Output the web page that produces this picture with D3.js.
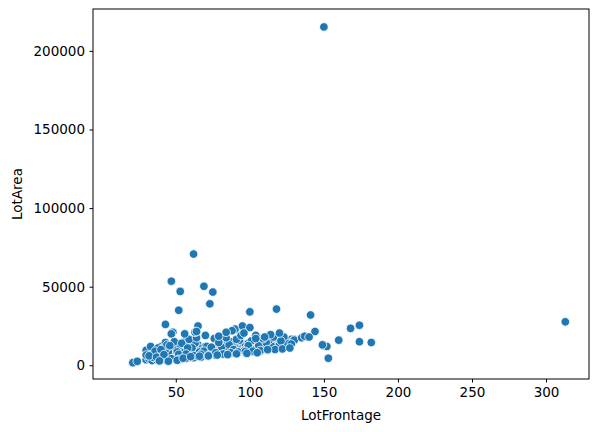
<!DOCTYPE html>
<html>
<head>
  <script src="https://cdnjs.cloudflare.com/ajax/libs/d3/7.8.5/d3.min.js"></script>
  <style>body{margin:0;background:#fff;font-family:"DejaVu Sans",sans-serif;}</style>
</head>
<body>
<div id="chart"></div>
<script>
// LotFrontage values
var frontage = [
  150,313,62,47,69,75,53,52,73,100,118,141,174,168,174,182,160,153,150,152,144,138,130,43,48,65,90,95,100,
  21,21,24,30,30,32,34,35,35,36,37,38,40,40,41,42,43,44,45,46,47,48,49,50,50,51,52,53,54,55,56,57,58,59,60,60,
  60,61,62,63,64,65,65,66,67,68,69,70,70,71,72,73,74,75,75,76,77,78,79,80,80,81,82,83,84,85,85,86,87,88,89,90,
  90,91,92,93,94,95,96,97,98,99,100,101,102,103,104,105,106,107,108,110,112,114,115,116,118,120,121,122,124,125,126,128,129,130,
  30,35,40,45,50,55,60,65,70,75,80,85,90,95,100,105,110,115,120,125,
  33,38,43,48,53,58,63,68,73,78,83,88,93,98,103,108,113,118,123,128,
  36,41,46,51,56,61,66,71,76,81,86,91,96,101,106,111,116,121,
  44,49,54,59,64,69,74,79,84,89,94,99,104,109,114,
  57,62,67,72,77,82,87,92,97,102,107,112,117,122,127,
  40,46,52,58,63,70,64,56,88,96,104,110,84,79,120,135,137,140,149,
  32,37,42,47,52,57,62,67,72,77,82,87,92,97,102,107,112,
  39,45,51,55,60,66,72,78,85,91,98,105
];
// LotArea values
var lotArea = [
  215245,27650,70761,53504,50271,46589,47000,35000,39104,34000,35760,32000,25500,23500,15000,14500,16000,4500,12500,12000,21500,18000,16500,26000,21000,25000,23000,25000,24000,
  1500,1700,2500,3500,9500,4000,3000,5000,7500,6000,3500,8000,4500,12000,6500,5500,14500,3000,9000,7000,20000,6000,8500,6500,11000,5500,7500,9000,4000,10500,8000,6500,12500,7000,7200,9500,
  12000,8000,9500,7500,10000,8500,13000,7800,9200,11000,8400,8800,12000,9600,10000,7500,9000,11500,8500,10500,9800,12500,9000,10200,14000,9500,11000,12000,10500,10000,13500,11000,9500,12000,11200,10500,
  14000,11500,13000,10000,12500,11800,13000,12000,10500,14000,13000,12000,11500,13500,12500,14000,13000,12000,14500,13500,14000,15000,13800,14500,16000,15000,14200,15500,16000,15000,14800,16500,15500,16000,
  6500,5000,7500,8500,4500,9500,5000,6000,6500,7500,8000,9000,8500,9000,9500,10000,11000,12000,13000,14000,
  12000,11000,10000,4000,13000,6500,14000,8000,9000,16000,10000,15000,16000,11000,17000,11000,16000,17500,18000,13500,
  9000,5500,12500,8500,15000,11000,8500,12000,17000,11500,13000,16500,9000,15500,12500,14500,18000,15500,
  13000,15000,14000,16500,17500,9000,11500,14500,17500,10000,19000,12500,19000,17000,19500,
  4500,4800,5200,6000,6400,7000,7500,7800,8200,8600,9000,9600,10000,10400,11000,
  10000,12500,7000,11000,21000,19000,21500,20000,22000,20500,17000,18000,21000,18500,20500,17500,18500,18000,13000,
  6000,5200,6800,4200,3800,7200,6200,7000,6500,8000,7200,8000,8500,8800,9000,9400,10000,
  2800,2600,3200,4500,5500,5800,6000,6500,6800,7300,7600,8000
];
var xTicks = [50, 100, 150, 200, 250, 300];
var yTicks = [0, 50000, 100000, 150000, 200000];

var width = 598, height = 432;
var margin = {left: 93, right: 9, top: 9, bottom: 53};

var svg = d3.select('#chart').append('svg')
  .attr('width', width).attr('height', height);

var x = d3.scaleLinear().domain([-5.9, 329]).range([margin.left, width - margin.right]);
var y = d3.scaleLinear().domain([-8720, 226650]).range([height - margin.bottom, margin.top]);

var points = frontage.map(function(f, i){ return [f, lotArea[i]]; });

svg.append('g').selectAll('circle').data(points).enter().append('circle')
  .attr('cx', function(d){ return x(d[0]); })
  .attr('cy', function(d){ return y(d[1]); })
  .attr('r', 4.3)
  .style('fill', '#1f77b4')
  .style('stroke', '#fff')
  .style('stroke-width', 0.8);

var xAxis = svg.append('g')
  .attr('transform', 'translate(0,' + (height - margin.bottom) + ')')
  .call(d3.axisBottom(x).tickValues(xTicks).tickSize(3.5).tickPadding(4.5));
var yAxis = svg.append('g')
  .attr('transform', 'translate(' + margin.left + ',0)')
  .call(d3.axisLeft(y).tickValues(yTicks).tickFormat(d3.format('d')).tickSize(3.5).tickPadding(4.5));
[xAxis, yAxis].forEach(function(a){
  a.select('.domain').remove();
  a.selectAll('text').style('font-size', '13.5px').style('fill', '#000').style('font-family', '"DejaVu Sans"');
  a.selectAll('line').style('stroke', '#000');
});

svg.append('rect')
  .attr('x', margin.left).attr('y', margin.top)
  .attr('width', width - margin.left - margin.right)
  .attr('height', height - margin.top - margin.bottom)
  .style('fill', 'none').style('stroke', '#000').style('stroke-width', 1);

svg.append('text').attr('x', (margin.left + width - margin.right) / 2).attr('y', 420)
  .attr('text-anchor', 'middle').style('font-size', '13.5px').text('LotFrontage');
svg.append('text').attr('transform', 'translate(22,' + ((margin.top + height - margin.bottom) / 2) + ') rotate(-90)')
  .attr('text-anchor', 'middle').style('font-size', '13.5px').text('LotArea');
</script>
</body>
</html>
